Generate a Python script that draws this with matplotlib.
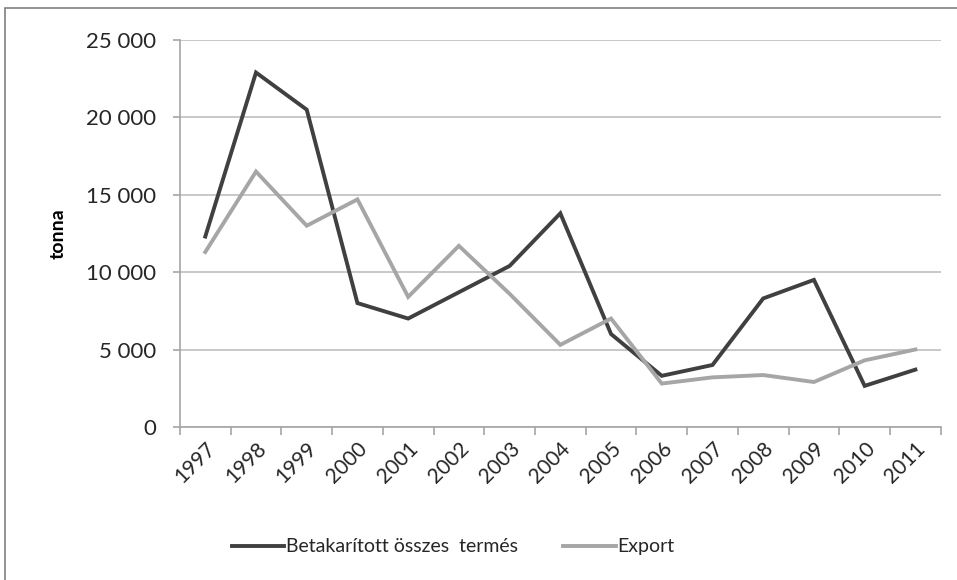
import matplotlib.pyplot as plt
import matplotlib.ticker as mticker
from matplotlib.patches import Rectangle

plt.rcParams['font.family'] = ['Lato', 'DejaVu Sans']

years = ['1997', '1998', '1999', '2000', '2001', '2002', '2003', '2004',
         '2005', '2006', '2007', '2008', '2009', '2010', '2011']
total_harvest = [12300, 22900, 20500, 8000, 7000, 8700, 10400, 13800,
                 6000, 3300, 4000, 8300, 9500, 2650, 3700]
export = [11300, 16500, 13000, 14700, 8400, 11700, 8600, 5300,
          7000, 2800, 3200, 3350, 2900, 4300, 5000]

fig = plt.figure(figsize=(9.57, 5.8), dpi=100)
ax = fig.add_axes([0.188, 0.264, 0.795, 0.667])

# outer chart border
fig.patches.append(Rectangle((5 / 957, -0.1), 1.1, 1 - 8 / 580 + 0.1,
                             transform=fig.transFigure, fill=False,
                             edgecolor='#7f7f7f', linewidth=1.2))

x = list(range(len(years)))
ax.plot(x, total_harvest, color='#404040', linewidth=2.8,
        label='Betakarított összes  termés', solid_joinstyle='miter')
ax.plot(x, export, color='#a6a6a6', linewidth=2.8,
        label='Export', solid_joinstyle='miter')

ax.set_xlim(-0.5, len(years) - 0.5)
ax.set_ylim(0, 25000)
ax.yaxis.set_major_locator(mticker.MultipleLocator(5000))
ax.yaxis.set_major_formatter(
    mticker.FuncFormatter(lambda v, p: f'{int(v):,}'.replace(',', ' ')))
ax.grid(axis='y', color='#bfbfbf', linewidth=1.2)
ax.set_axisbelow(True)

# ticks between categories, labels at centres
ax.set_xticks([i - 0.5 for i in range(len(years) + 1)])
ax.set_xticklabels([])
ax.set_xticks(x, minor=True)
ax.set_xticklabels(years, minor=True, rotation=45, ha='right',
                   rotation_mode='anchor', fontsize=15, color='#262626')
ax.tick_params(axis='x', which='major', length=6, color='#a6a6a6', width=1.2)
ax.tick_params(axis='x', which='minor', length=0, pad=8)
ax.tick_params(axis='y', length=5, color='#a6a6a6', width=1.2,
               labelsize=16, pad=12, labelcolor='#262626')

for side in ['top', 'right']:
    ax.spines[side].set_visible(False)
for side in ['left', 'bottom']:
    ax.spines[side].set_color('#a6a6a6')
    ax.spines[side].set_linewidth(1.2)

ax.set_ylabel('tonna', fontsize=14, fontweight='bold', labelpad=14)

fig.legend(loc='center left', bbox_to_anchor=(0.224, 0.057), ncol=2,
           frameon=False, fontsize=14, handlelength=2.7, columnspacing=2.3,
           handletextpad=0.1, labelcolor='#262626')

fig.savefig('out.png', dpi=100)
